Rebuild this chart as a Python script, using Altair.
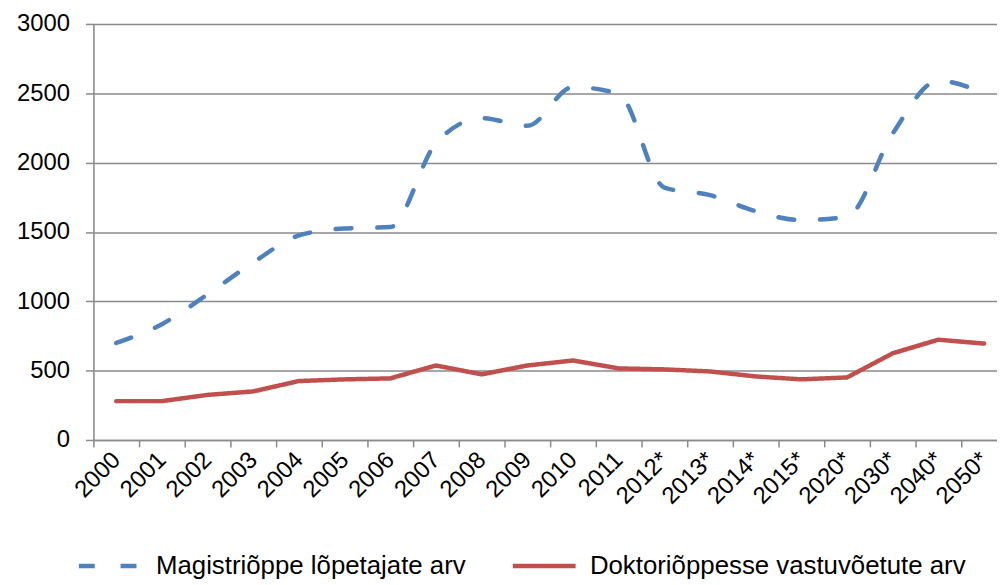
import json
import altair as alt
import pandas as pd

years = ["2000", "2001", "2002", "2003", "2004", "2005", "2006", "2007", "2008", "2009",
         "2010", "2011", "2012*", "2013*", "2014*", "2015*", "2020*", "2030*", "2040*", "2050*"]
magistri = [700, 835, 1050, 1280, 1475, 1525, 1535, 2140, 2320, 2265,
            2545, 2495, 1820, 1765, 1650, 1585, 1610, 2210, 2590, 2500]
doktori = [280, 280, 325, 350, 425, 437, 444, 537, 473, 537,
           573, 516, 509, 494, 458, 437, 451, 625, 723, 695]
series_names = ["Magistriõppe lõpetajate arv", "Doktoriõppesse vastuvõetute arv"]
y_ticks = [0, 500, 1000, 1500, 2000, 2500, 3000]

rows = []
for i, y in enumerate(years):
    rows.append({"idx": i, "year": y, "series": series_names[0], "value": magistri[i]})
for i, y in enumerate(years):
    rows.append({"idx": i, "year": y, "series": series_names[1], "value": doktori[i]})
df = pd.DataFrame(rows)

FONT = "Liberation Sans"
GRID = "#8a8a8a"
W = 910
H = 419
BAND = 46
xmax = -0.5 + W / BAND

label_expr = json.dumps(years) + "[round(datum.value)]"

x_axis = alt.Axis(
    values=list(range(len(years))),
    labelExpr=label_expr,
    tickOffset=-BAND / 2,
    labelOffset=BAND / 2,
    labelAngle=-45,
    labelAlign="right",
    labelBaseline="middle",
    labelFontSize=24,
    labelFont=FONT,
    labelColor="#000000",
    labelPadding=9,
    labelOverlap=False,
    labelBound=False,
    labelFlush=False,
    tickSize=7,
    tickColor=GRID,
    tickWidth=1.5,
    domainColor=GRID,
    domainWidth=1.5,
    grid=False,
    title=None,
)

y_axis = alt.Axis(
    values=y_ticks,
    format="d",
    labelFontSize=24,
    labelFont=FONT,
    labelColor="#000000",
    labelPadding=16,
    tickSize=8,
    tickColor=GRID,
    tickWidth=1.5,
    domainColor=GRID,
    domainWidth=1.5,
    grid=True,
    gridColor=GRID,
    gridWidth=1.5,
    title=None,
)

color_scale = alt.Scale(domain=series_names, range=["#4F81BD", "#C0504D"])
dash_scale = alt.Scale(domain=series_names, range=[[16, 26], [1, 0]])

legend = alt.Legend(
    orient="none",
    direction="horizontal",
    legendX=-17,
    legendY=512,
    title=None,
    symbolType="stroke",
    symbolSize=4000,
    symbolStrokeWidth=4.5,
    labelFontSize=26,
    labelFont=FONT,
    labelColor="#000000",
    labelOffset=12,
    columnPadding=37,
    padding=0,
    labelLimit=500,
)

base = alt.Chart(df)

blue = base.transform_filter(alt.datum.series == series_names[0]).mark_line(
    strokeWidth=4.5, strokeCap="round", interpolate="monotone"
)
red = base.transform_filter(alt.datum.series == series_names[1]).mark_line(
    strokeWidth=4.5, strokeCap="round", strokeJoin="round"
)

enc = dict(
    x=alt.X("idx:Q", scale=alt.Scale(domain=[-0.5, xmax], nice=False, zero=False), axis=x_axis),
    y=alt.Y("value:Q", scale=alt.Scale(domain=[0, 3000], nice=False), axis=y_axis),
    color=alt.Color("series:N", scale=color_scale, legend=legend, sort=series_names),
    strokeDash=alt.StrokeDash("series:N", scale=dash_scale, legend=legend, sort=series_names),
)

chart = alt.layer(blue.encode(**enc), red.encode(**enc)).properties(
    width=W,
    height=H,
    autosize=alt.AutoSizeParams(type="none"),
    padding={"left": 86, "top": 14, "right": 0, "bottom": 140},
).configure_view(stroke=None).configure(background="#ffffff")

chart.save("out.html", embed_options={"renderer": "svg", "actions": False})
